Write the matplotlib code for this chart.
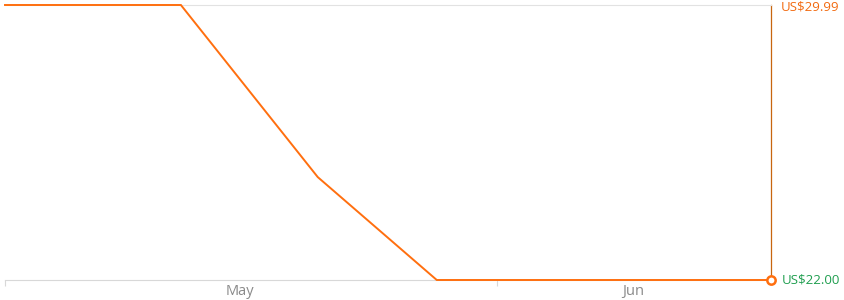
import matplotlib
matplotlib.use('Agg')
import matplotlib.pyplot as plt
import pandas as pd

dates = pd.to_datetime(['2024-05-01 00:00', '2024-05-12 02:00', '2024-05-20 17:00',
                        '2024-05-28 05:00', '2024-06-18 06:30'])
prices = [29.99, 29.99, 24.99, 22.00, 22.00]
month_bounds = pd.to_datetime(['2024-05-01', '2024-06-01'])
month_centers = pd.to_datetime(['2024-05-15 19:00', '2024-06-09 14:00'])
month_labels = ['May', 'Jun']
high_label = 'US$29.99'
low_label = 'US$22.00'

orange = '#ff6f0f'
plt.rcParams['font.family'] = ['Open Sans', 'DejaVu Sans']

fig = plt.figure(figsize=(8.45, 3.0), dpi=100)
ax = fig.add_axes([5 / 845, 20 / 300, 766 / 845, 275 / 300])

ax.plot(dates, prices, color=orange, linewidth=1.4, solid_joinstyle='miter',
        clip_on=False, zorder=3)
ax.plot(dates[-1], prices[-1], 'o', markersize=6, markerfacecolor='white',
        markeredgecolor=orange, markeredgewidth=1.8, clip_on=False, zorder=5)

ax.set_xlim(dates[0], dates[-1])
ax.set_ylim(22, 29.99)

ax.spines['left'].set_visible(False)
ax.spines['top'].set_color('#e2e2e2')
ax.spines['bottom'].set_color('#d8d8d8')
ax.spines['right'].set_color('#c8660f')
ax.spines['right'].set_linewidth(0.9)

ax.set_xticks(month_bounds)
ax.set_xticklabels([])
ax.tick_params(axis='x', which='major', length=4, color='#d8d8d8')
ax.set_xticks(month_centers, minor=True)
ax.set_xticklabels(month_labels, minor=True)
ax.tick_params(axis='x', which='minor', length=0, labelsize=10.5,
               labelcolor='#8a8a8a', pad=3)
ax.set_yticks([])

fig.text(781 / 845, 1 - 0.5 / 300, high_label, ha='left', va='top',
         fontsize=9.5, color='#f26a10')
ax.text(1.0135, 0.0, low_label, transform=ax.transAxes, ha='left', va='center',
        fontsize=9.5, color='#1f9e4f')

fig.savefig('out.png', dpi=100)
